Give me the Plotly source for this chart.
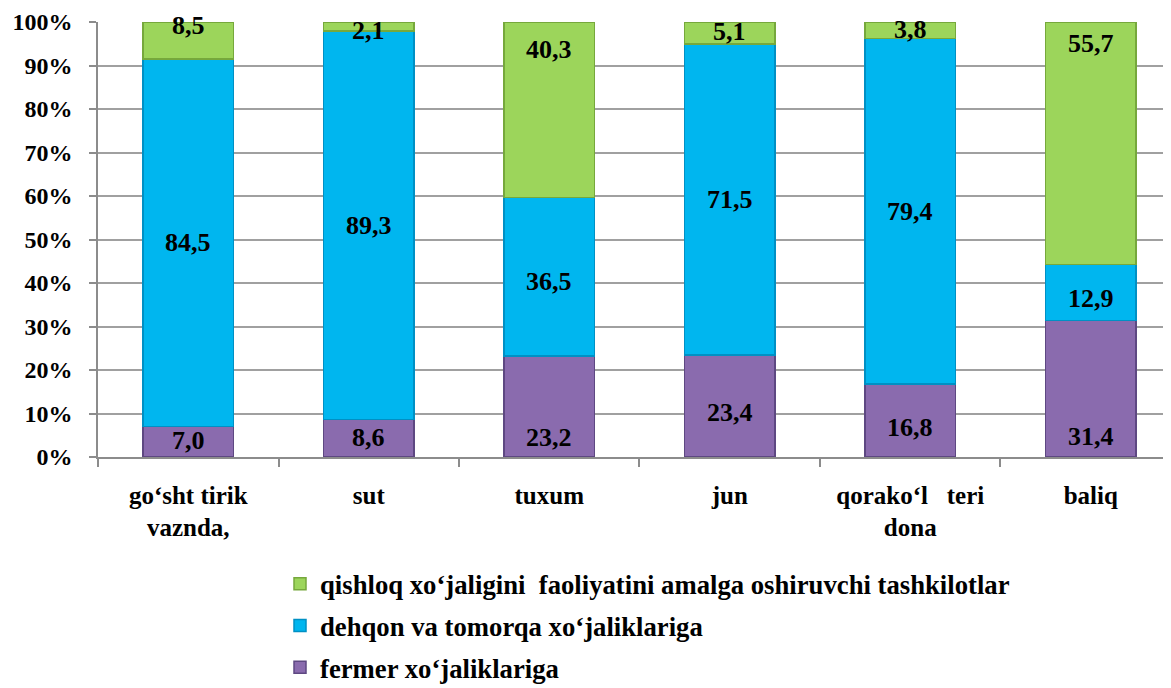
import plotly.graph_objects as go

categories = ["go‘sht tirik<br>vaznda,", "sut", "tuxum", "jun", "qorako‘l   teri<br>dona", "baliq"]
series_names = [
    "fermer xo‘jaliklariga",
    "dehqon va tomorqa xo‘jaliklariga",
    "qishloq xo‘jaligini  faoliyatini amalga oshiruvchi tashkilotlar",
]
fermer = [7.0, 8.6, 23.2, 23.4, 16.8, 31.4]
dehqon = [84.5, 89.3, 36.5, 71.5, 79.4, 12.9]
qishloq = [8.5, 2.1, 40.3, 5.1, 3.8, 55.7]
y_ticks = [0, 10, 20, 30, 40, 50, 60, 70, 80, 90, 100]
y_tick_labels = [f"{v}%" for v in y_ticks]

# style
fills = ["#8A6BAE", "#00B6EF", "#9CD55B"]
edges = ["#5E4882", "#0090C4", "#76A83C"]
legend_ranks = [3, 2, 1]
# per-label vertical nudges (px, positive = up)
nudges = [
    [1, 1, -31, -6, -7, -48],
    [0, 0, -5, 0, 0, -6],
    [15, -4, 60, 2, 1, 100],
]
OFF = 8  # page body margin
FONT = "Liberation Serif"

series = [fermer, dehqon, qishloq]
fig = go.Figure()
for name, vals, fc, ec, rk in zip(series_names, series, fills, edges, legend_ranks):
    fig.add_trace(go.Bar(
        x=categories, y=vals, name=name, width=0.5,
        marker=dict(color=fc, line=dict(color=ec, width=1.5)),
        legendgroup=name, legendrank=rk,
    ))

annotations = []
base = [0.0] * len(categories)
for si, vals in enumerate(series):
    for ci, v in enumerate(vals):
        mid = base[ci] + v / 2
        annotations.append(dict(
            x=categories[ci], y=mid, xref="x", yref="y",
            text=f"{v:.1f}".replace(".", ","), showarrow=False,
            yshift=nudges[si][ci],
            font=dict(family=FONT, size=26, color="black", weight="bold"),
        ))
        base[ci] += v

fig.update_layout(
    width=1171, height=688,
    barmode="stack",
    paper_bgcolor="white", plot_bgcolor="white",
    margin=dict(l=98 - OFF, r=0, t=22 - OFF, b=231 + OFF, autoexpand=False),
    font=dict(family=FONT, size=26, color="black", weight="bold"),
    annotations=annotations,
    legend=dict(
        orientation="v", traceorder="grouped", tracegroupgap=4,
        xref="container", yref="container",
        x=(280 - OFF) / 1171, xanchor="left", y=(688 - 552) / 688, yanchor="top",
        font=dict(family=FONT, size=26.7, color="black", weight="bold"),
        itemwidth=30, bgcolor="rgba(0,0,0,0)",
    ),
    xaxis=dict(
        range=[-0.5, 5.489], showgrid=False, tickson="boundaries",
        ticks="outside", ticklen=8, tickcolor="#8C8C8C", tickwidth=1.5,
        showline=True, linecolor="#8C8C8C", linewidth=1.5,
        ticklabelstandoff=15,
        tickfont=dict(family=FONT, size=25, color="black", weight="bold"),
    ),
    yaxis=dict(
        range=[0, 100], tickvals=y_ticks, ticktext=y_tick_labels,
        showgrid=True, gridcolor="#A0A0A0", gridwidth=1.5,
        ticks="outside", ticklen=7, tickcolor="#8C8C8C", tickwidth=1.5,
        showline=True, linecolor="#8C8C8C", linewidth=1.5,
        zeroline=False, ticklabelstandoff=12,
        tickfont=dict(family=FONT, size=24, color="black", weight="bold"),
    ),
)

fig.write_html("out.html")
